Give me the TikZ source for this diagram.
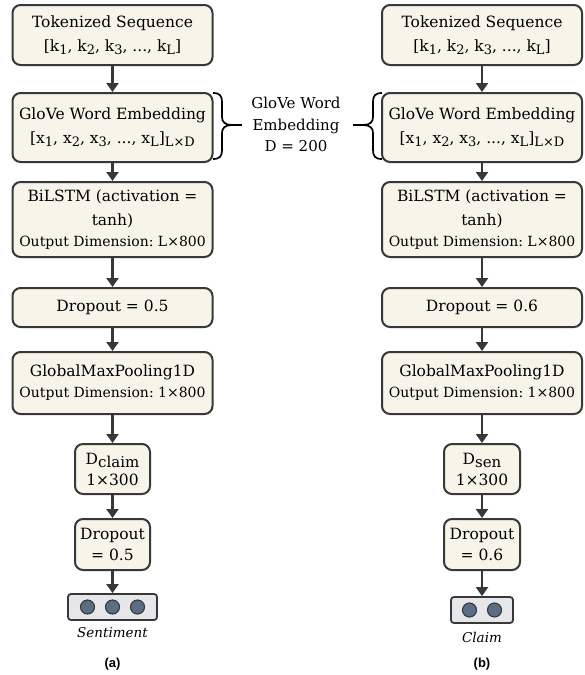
\documentclass[tikz,border=0pt]{standalone}
\usepackage{fontspec}
\setmainfont{DejaVu Serif}
\newfontfamily\labfont{Liberation Sans}
\usetikzlibrary{arrows.meta}
\definecolor{boxfill}{HTML}{F7F4EA}
\definecolor{boxline}{HTML}{383838}
\definecolor{outfill}{HTML}{E6E7EA}
\definecolor{dotfill}{HTML}{5B6D82}
\newcommand{\lo}[1]{\raisebox{-0.4ex}{\fontsize{13}{13}\selectfont #1}}
\newcommand{\bigsub}[1]{\raisebox{-0.4ex}{\fontsize{15}{15}\selectfont #1}}
\newcommand{\smallfs}{\fontsize{14}{18}\selectfont}
\frenchspacing
\tikzset{
  layer/.style={draw=boxline, fill=boxfill, line width=2pt, rounded corners=8pt,
    align=center, inner sep=2pt, font=\fontsize{15.5}{24}\selectfont},
  outbox/.style={draw=boxline, fill=outfill, line width=1.8pt, rounded corners=3pt, inner sep=0pt},
  dot/.style={circle, draw=boxline, fill=dotfill, line width=1.1pt, minimum size=14pt, inner sep=0pt},
  flow/.style={draw=boxline, line width=2.2pt, -{Triangle[length=9pt,width=12pt]}},
  brc/.style={draw=black, line width=1.7pt},
  captext/.style={font=\fontsize{13.5}{16}\selectfont\itshape},
  sublabel/.style={font=\labfont\bfseries\fontsize{13}{15}\selectfont}
}
\begin{document}
\begin{tikzpicture}[x=1pt,y=-1pt]
\useasboundingbox (0,0) rectangle (585,675);
% left column
\node[layer, minimum width=200pt, minimum height=60pt] (tokA) at (112.5,35) {Tokenized Sequence\\{}[k\lo{1}, k\lo{2}, k\lo{3}, ..., k\lo{L}]};
\node[layer, minimum width=200pt, minimum height=69pt] (gloA) at (112.5,127.5) {GloVe Word Embedding\\{}[x\lo{1}, x\lo{2}, x\lo{3}, ..., x\lo{L}]\lo{L×D}};
\node[layer, minimum width=200pt, minimum height=75pt] (lstA) at (112.5,219.5) {BiLSTM (activation =\\tanh)\\[-3pt]{\smallfs Output Dimension: L×800}};
\node[layer, minimum width=200pt, minimum height=39pt] (drpA) at (112.5,307.5) {Dropout = 0.5};
\node[layer, minimum width=200pt, minimum height=62pt] (gmpA) at (112.5,383) {GlobalMaxPooling1D\\[-3pt]{\smallfs Output Dimension: 1×800}};
\node[layer, minimum width=75pt, minimum height=50pt] (denA) at (112.5,469) {D\bigsub{claim}\\[-3pt]1×300};
\node[layer, minimum width=75pt, minimum height=51pt] (dr2A) at (112.5,544.5) {Dropout\\[-3pt]= 0.5};
\node[outbox, minimum width=89pt, minimum height=26pt] (outA) at (112.5,607) {};
\node[dot] (a1) at (87.5,607) {};
\node[dot] (a2) at (112.5,607) {};
\node[dot] (a3) at (137.5,607) {};
\node[captext] (capA) at (112.5,633) {Sentiment};
\node[sublabel] (subA) at (112.5,664) {(a)};
% right column
\node[layer, minimum width=200pt, minimum height=60pt] (tokB) at (482,35) {Tokenized Sequence\\{}[k\lo{1}, k\lo{2}, k\lo{3}, ..., k\lo{L}]};
\node[layer, minimum width=200pt, minimum height=69pt] (gloB) at (482,127.5) {GloVe Word Embedding\\{}[x\lo{1}, x\lo{2}, x\lo{3}, ..., x\lo{L}]\lo{L×D}};
\node[layer, minimum width=200pt, minimum height=75pt] (lstB) at (482,219.5) {BiLSTM (activation =\\tanh)\\[-3pt]{\smallfs Output Dimension: L×800}};
\node[layer, minimum width=200pt, minimum height=39pt] (drpB) at (482,307.5) {Dropout = 0.6};
\node[layer, minimum width=200pt, minimum height=62pt] (gmpB) at (482,383) {GlobalMaxPooling1D\\[-3pt]{\smallfs Output Dimension: 1×800}};
\node[layer, minimum width=76pt, minimum height=50pt] (denB) at (482,469) {D\bigsub{sen}\\[-3pt]1×300};
\node[layer, minimum width=76pt, minimum height=51pt] (dr2B) at (482,544.5) {Dropout\\[-3pt]= 0.6};
\node[outbox, minimum width=62pt, minimum height=26pt] (outB) at (482,610) {};
\node[dot] (b1) at (469.5,610) {};
\node[dot] (b2) at (494.5,610) {};
\node[captext] (capB) at (482,637) {Claim};
\node[sublabel] (subB) at (482,664) {(b)};
% label
\node[align=center, font=\fontsize{15}{21.5}\selectfont, inner sep=1pt] (emb) at (296,124.5) {GloVe Word\\Embedding\\D = 200};
% braces
\coordinate (tipA) at (232,125);
\coordinate (tipB) at (363,125);
\coordinate (dashA) at (242,125);
\coordinate (dashB) at (353,125);
\draw[brc] (213,93) .. controls (220,93) and (222,96) .. (222,102) -- (222,117)
  .. controls (222,122) and (225,125) .. (tipA)
  .. controls (225,125) and (222,128) .. (222,133) -- (222,150)
  .. controls (222,156) and (220,159) .. (213,159);
\draw[brc] (382,93) .. controls (375,93) and (373,96) .. (373,102) -- (373,117)
  .. controls (373,122) and (370,125) .. (tipB)
  .. controls (370,125) and (373,128) .. (373,133) -- (373,150)
  .. controls (373,156) and (375,159) .. (382,159);
\draw[brc] (tipA) -- (dashA);
\draw[brc] (tipB) -- (dashB);
% arrows
\foreach \s/\t in {tokA/gloA,gloA/lstA,lstA/drpA,drpA/gmpA,gmpA/denA,denA/dr2A,dr2A/outA,
                   tokB/gloB,gloB/lstB,lstB/drpB,drpB/gmpB,gmpB/denB,denB/dr2B,dr2B/outB}
  \draw[flow] (\s) -- (\t);
\end{tikzpicture}
\end{document}
